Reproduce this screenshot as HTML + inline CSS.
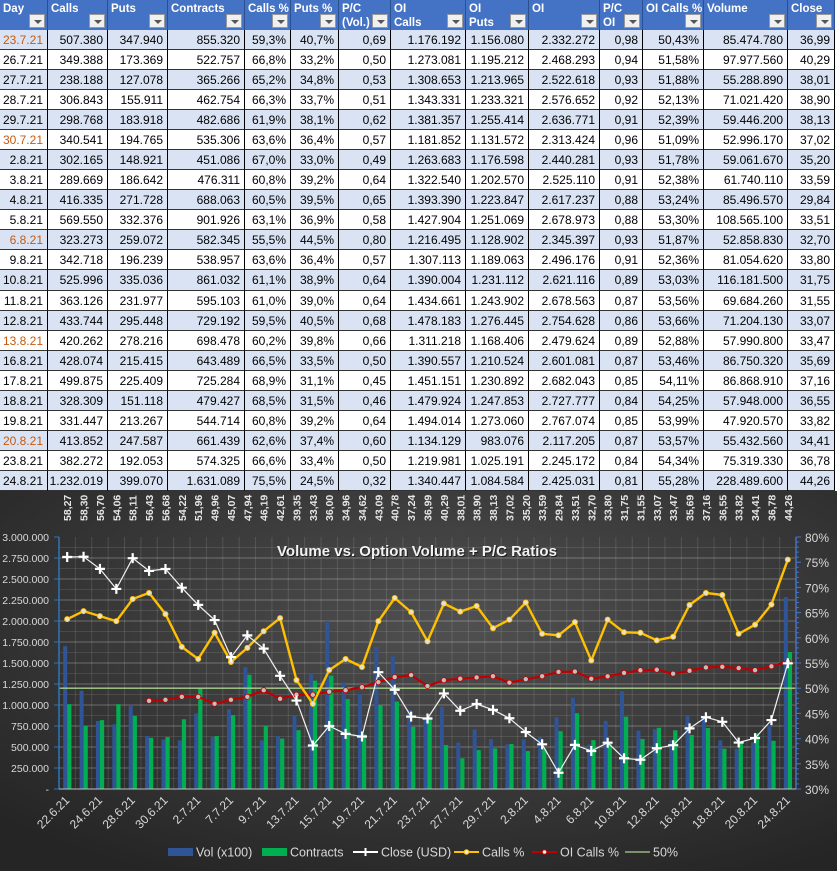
<!DOCTYPE html>
<html><head><meta charset="utf-8"><style>
body{margin:0;width:837px;height:871px;overflow:hidden;background:#fff;font-family:"Liberation Sans",sans-serif}
#tbl{position:absolute;left:0;top:0;width:837px;height:491px;background:#fff}
.cell{position:absolute;box-sizing:border-box;font-size:12px;color:#000;text-align:right;padding-right:4px;line-height:20px;border-right:1px solid #000;border-bottom:1px solid #333;white-space:nowrap}
.hd{position:absolute;top:0;height:30px;background:#4472c4;color:#fff;font-weight:bold;font-size:11.5px;box-sizing:border-box;border-right:1px solid #2c4f8e;padding:2px 0 0 3px;line-height:14px}
.dd{position:absolute;right:2px;bottom:2px;width:16px;height:14px;background:#f0f0f0;border:1px solid #999;box-sizing:border-box}
.dd:after{content:"";position:absolute;left:4px;top:5px;border-left:4px solid transparent;border-right:4px solid transparent;border-top:4px solid #555}
#chart{position:absolute;left:0;top:491px}
</style></head><body>
<div id="tbl"></div>
<svg id="chart" width="837" height="380" viewBox="0 491 837 380">
<defs><radialGradient id="bg" cx="0.55" cy="0.35" r="0.75"><stop offset="0" stop-color="#505050"/><stop offset="1" stop-color="#252525"/></radialGradient></defs>
<rect x="0" y="491" width="837" height="380" fill="url(#bg)"/>
<g id="grid"></g><g id="bars"></g><g id="lines"></g><g id="axes"></g>
<text x="418" y="557" text-anchor="middle" font-size="15" font-weight="bold" fill="#000" opacity="0.6" font-family="Liberation Sans, sans-serif">Volume vs. Option Volume + P/C Ratios</text>
<text x="417" y="556" text-anchor="middle" font-size="15" font-weight="bold" fill="#f2f2f2" font-family="Liberation Sans, sans-serif">Volume vs. Option Volume + P/C Ratios</text>
<g id="legend"></g>
</svg>
<script>
// ---------- table data ----------
const headers=[["Day"],["Calls"],["Puts"],["Contracts"],["Calls %"],["Puts %"],["P/C","(Vol.)"],["OI","Calls"],["OI","Puts"],["OI"],["P/C","OI"],["OI Calls %"],["Volume"],["Close"]];
const colX=[0,48,108,168,245,291,339,391,466,529,600,643,704,788,835];
const rows=[
["23.7.21","507.380","347.940","855.320","59,3%","40,7%","0,69","1.176.192","1.156.080","2.332.272","0,98","50,43%","85.474.780","36,99"],
["26.7.21","349.388","173.369","522.757","66,8%","33,2%","0,50","1.273.081","1.195.212","2.468.293","0,94","51,58%","97.977.560","40,29"],
["27.7.21","238.188","127.078","365.266","65,2%","34,8%","0,53","1.308.653","1.213.965","2.522.618","0,93","51,88%","55.288.890","38,01"],
["28.7.21","306.843","155.911","462.754","66,3%","33,7%","0,51","1.343.331","1.233.321","2.576.652","0,92","52,13%","71.021.420","38,90"],
["29.7.21","298.768","183.918","482.686","61,9%","38,1%","0,62","1.381.357","1.255.414","2.636.771","0,91","52,39%","59.446.200","38,13"],
["30.7.21","340.541","194.765","535.306","63,6%","36,4%","0,57","1.181.852","1.131.572","2.313.424","0,96","51,09%","52.996.170","37,02"],
["2.8.21","302.165","148.921","451.086","67,0%","33,0%","0,49","1.263.683","1.176.598","2.440.281","0,93","51,78%","59.061.670","35,20"],
["3.8.21","289.669","186.642","476.311","60,8%","39,2%","0,64","1.322.540","1.202.570","2.525.110","0,91","52,38%","61.740.110","33,59"],
["4.8.21","416.335","271.728","688.063","60,5%","39,5%","0,65","1.393.390","1.223.847","2.617.237","0,88","53,24%","85.496.570","29,84"],
["5.8.21","569.550","332.376","901.926","63,1%","36,9%","0,58","1.427.904","1.251.069","2.678.973","0,88","53,30%","108.565.100","33,51"],
["6.8.21","323.273","259.072","582.345","55,5%","44,5%","0,80","1.216.495","1.128.902","2.345.397","0,93","51,87%","52.858.830","32,70"],
["9.8.21","342.718","196.239","538.957","63,6%","36,4%","0,57","1.307.113","1.189.063","2.496.176","0,91","52,36%","81.054.620","33,80"],
["10.8.21","525.996","335.036","861.032","61,1%","38,9%","0,64","1.390.004","1.231.112","2.621.116","0,89","53,03%","116.181.500","31,75"],
["11.8.21","363.126","231.977","595.103","61,0%","39,0%","0,64","1.434.661","1.243.902","2.678.563","0,87","53,56%","69.684.260","31,55"],
["12.8.21","433.744","295.448","729.192","59,5%","40,5%","0,68","1.478.183","1.276.445","2.754.628","0,86","53,66%","71.204.130","33,07"],
["13.8.21","420.262","278.216","698.478","60,2%","39,8%","0,66","1.311.218","1.168.406","2.479.624","0,89","52,88%","57.990.800","33,47"],
["16.8.21","428.074","215.415","643.489","66,5%","33,5%","0,50","1.390.557","1.210.524","2.601.081","0,87","53,46%","86.750.320","35,69"],
["17.8.21","499.875","225.409","725.284","68,9%","31,1%","0,45","1.451.151","1.230.892","2.682.043","0,85","54,11%","86.868.910","37,16"],
["18.8.21","328.309","151.118","479.427","68,5%","31,5%","0,46","1.479.924","1.247.853","2.727.777","0,84","54,25%","57.948.000","36,55"],
["19.8.21","331.447","213.267","544.714","60,8%","39,2%","0,64","1.494.014","1.273.060","2.767.074","0,85","53,99%","47.920.570","33,82"],
["20.8.21","413.852","247.587","661.439","62,6%","37,4%","0,60","1.134.129","983.076","2.117.205","0,87","53,57%","55.432.560","34,41"],
["23.8.21","382.272","192.053","574.325","66,6%","33,4%","0,50","1.219.981","1.025.191","2.245.172","0,84","54,34%","75.319.330","36,78"],
["24.8.21","1.232.019","399.070","1.631.089","75,5%","24,5%","0,32","1.340.447","1.084.584","2.425.031","0,81","55,28%","228.489.600","44,26"]];
const fridays=["23.7.21","30.7.21","6.8.21","13.8.21","20.8.21"];
const tbl=document.getElementById('tbl');
headers.forEach((h,i)=>{
  const d=document.createElement('div');d.className='hd';
  
  
  d.style.left=colX[i]+'px';d.style.width=(colX[i+1]-colX[i])+'px';
  d.innerHTML=h.join('<br>');
  const b=document.createElement('div');b.className='dd';
  
  
  d.appendChild(b);tbl.appendChild(d);
});
rows.forEach((r,ri)=>{
  r.forEach((v,ci)=>{
    const c=document.createElement('div');c.className='cell';
    
    
    c.style.left=colX[ci]+'px';c.style.width=(colX[ci+1]-colX[ci])+'px';
    c.style.top=(30+ri*20.04)+'px';c.style.height='20.04px';
    c.style.background=ri%2==0?'#dae3f3':'#ffffff';
    if(ci==0&&fridays.includes(v))c.style.color='#c55a11';
    c.textContent=v;tbl.appendChild(c);
  });
});

// ---------- chart data ----------
const dates=["22.6.21","23.6.21","24.6.21","25.6.21","28.6.21","29.6.21","30.6.21","1.7.21","2.7.21","6.7.21","7.7.21","8.7.21","9.7.21","12.7.21","13.7.21","14.7.21","15.7.21","16.7.21","19.7.21","20.7.21","21.7.21","22.7.21","23.7.21","26.7.21","27.7.21","28.7.21","29.7.21","30.7.21","2.8.21","3.8.21","4.8.21","5.8.21","6.8.21","9.8.21","10.8.21","11.8.21","12.8.21","13.8.21","16.8.21","17.8.21","18.8.21","19.8.21","20.8.21","23.8.21","24.8.21"];
const volX100=[1700000,1170000,810000,770000,1000000,630000,590000,580000,900000,620000,950000,1450000,580000,630000,870000,1380000,2000000,1270000,1130000,1690000,1580000,940000,854748,979776,552889,710214,594462,529962,590617,617401,854966,1085651,528588,810546,1161815,696843,712041,579908,867503,868689,579480,479206,554326,753193,2284896];
const contracts=[1010000,750000,820000,1010000,870000,610000,620000,830000,1200000,630000,880000,1360000,750000,600000,700000,1290000,1350000,1070000,650000,1000000,1040000,740000,855320,522757,365266,462754,482686,535306,451086,476311,688063,901926,582345,538957,861032,595103,729192,698478,643489,725284,479427,544714,661439,574325,1631089];
const closeUsd=[58.27,58.30,56.70,54.06,58.11,56.43,56.68,54.22,51.96,49.96,45.07,47.94,46.19,42.61,39.35,33.43,36.00,34.96,34.62,43.09,40.78,37.24,36.99,40.29,38.01,38.90,38.13,37.02,35.20,33.59,29.84,33.51,32.70,33.80,31.75,31.55,33.07,33.47,35.69,37.16,36.55,33.82,34.41,36.78,44.26];
const callsPct=[63.7,65.3,64.3,63.3,67.7,68.9,64.7,58.2,55.8,61.0,55.2,58.0,61.3,63.9,51.6,46.9,53.6,55.8,54.2,63.3,67.9,65.1,59.3,66.8,65.2,66.3,61.9,63.6,67.0,60.8,60.5,63.1,55.5,63.6,61.1,61.0,59.5,60.2,66.5,68.9,68.5,60.8,62.6,66.6,75.5];
const oiCallsPct=[null,null,null,null,null,47.5,47.7,48.3,48.3,46.9,47.7,48.3,49.6,47.9,48.7,48.7,49.3,49.6,50.2,51.2,52.2,52.6,50.43,51.58,51.88,52.13,52.39,51.09,51.78,52.38,53.24,53.30,51.87,52.36,53.03,53.56,53.66,52.88,53.46,54.11,54.25,53.99,53.57,54.34,55.28];
const leftTicks=[0,250000,500000,750000,1000000,1250000,1500000,1750000,2000000,2250000,2500000,2750000,3000000];
const rightTicks=[30,35,40,45,50,55,60,65,70,75,80];

// ---------- axes ----------
const X0=59,X1=796,Y0=789,Y1=537,N=dates.length,BW=(X1-X0)/N;
const xc=i=>X0+BW*(i+0.5);
const yL=v=>Y0-v/3000000*(Y0-Y1);
const yR=p=>Y0-(p-30)/50*(Y0-Y1);
const CMIN=27.7,CMAX=60.9;
const yC=v=>Y0-(v-CMIN)/(CMAX-CMIN)*(Y0-Y1);
const NS='http://www.w3.org/2000/svg';
function el(tag,attrs,parent){const e=document.createElementNS(NS,tag);for(const k in attrs)e.setAttribute(k,attrs[k]);parent.appendChild(e);return e;}
const G=document.getElementById('grid'),B=document.getElementById('bars'),L=document.getElementById('lines'),A=document.getElementById('axes'),LG=document.getElementById('legend');
const fmt=v=>v==0?'-':v.toString().replace(/\B(?=(\d{3})+(?!\d))/g,'.');

for(let k=0;k<24;k++){const y=Y0-k*(Y0-Y1)/24;const g=el('line',{x1:X0,x2:X1,y1:y,y2:y,stroke:k%2?'rgba(255,255,255,0.1)':'rgba(255,255,255,0.28)','stroke-width':1},G);

}
for(let i=0;i<=N;i++){const x=X0+i*BW;const g=el('line',{x1:x,x2:x,y1:Y1,y2:Y0,stroke:'rgba(255,255,255,0.12)','stroke-width':1},G);

}

leftTicks.forEach(v=>{const t=el('text',{x:49,y:yL(v)+4,'text-anchor':'end','font-size':10.5,fill:'#d9d9d9'},A);t.textContent=fmt(v);


el('line',{x1:54,x2:59,y1:yL(v),y2:yL(v),stroke:'#2e75b6'},A);});
rightTicks.forEach(p=>{const t=el('text',{x:805,y:yR(p)+5,'font-size':12,fill:'#d9d9d9'},A);t.textContent=p+'%';


el('line',{x1:796,x2:801,y1:yR(p),y2:yR(p),stroke:'#4472c4'},A);});
for(let k=0;k<50;k++){el('line',{x1:796,x2:799,y1:yR(30+k),y2:yR(30+k),stroke:'#4472c4'},A);}
el('line',{x1:X0,x2:X0,y1:Y1,y2:Y0,stroke:'#2e75b6','stroke-width':1.5},A);
el('line',{x1:X1,x2:X1,y1:Y1,y2:Y0,stroke:'#4472c4','stroke-width':1.5},A);
el('line',{x1:X0,x2:X1,y1:Y0,y2:Y0,stroke:'#bfbfbf','stroke-width':1},A);

// bars
dates.forEach((d,i)=>{
  const c=xc(i);
  const b=el('rect',{x:c-4,y:yL(volX100[i]),width:4,height:Y0-yL(volX100[i]),fill:'#2f5597'},B);
  
  
  const g=el('rect',{x:c,y:yL(contracts[i]),width:4.2,height:Y0-yL(contracts[i]),fill:'#00b050'},B);
  
  
  // x labels every other day
  if(i%2==0){const t=el('text',{x:c+3,y:Y0+12,'text-anchor':'end','font-size':12,fill:'#d9d9d9',transform:`rotate(-45 ${c+3} ${Y0+12})`},A);t.textContent=d;
  
  }
  // top close labels
  const tx=c+4;const tt=el('text',{x:tx,y:521,'font-size':10.5,'font-weight':'bold',fill:'#e6e6e6',transform:`rotate(-90 ${tx} 521)`},A);
  tt.textContent=closeUsd[i].toFixed(2).replace('.',',');
  
  
});

// 50% line
const fifty=el('line',{x1:X0,x2:X1,y1:yR(50),y2:yR(50),stroke:'#a9d18e','stroke-width':1.3},L);



function series(vals,yf,color,w,name){
  let d='';vals.forEach((v,i)=>{if(v==null)return;d+=(d?'L':'M')+xc(i).toFixed(1)+','+yf(v).toFixed(1);});
  const p=el('path',{d:d,fill:'none',stroke:color,'stroke-width':w,'stroke-linejoin':'round'},L);
  
  
}
series(oiCallsPct,yR,'#c00000',2.2,'oi-calls-pct');
series(callsPct,yR,'#ffc000',2.4,'calls-pct');
series(closeUsd,yC,'#f2f2f2',1.2,'close-usd');
oiCallsPct.forEach((v,i)=>{if(v==null)return;const m=el('circle',{cx:xc(i),cy:yR(v),r:2.6,fill:'#bfbfbf',stroke:'#c00000','stroke-width':0.8},L);

});
callsPct.forEach((v,i)=>{const m=el('circle',{cx:xc(i),cy:yR(v),r:2.6,fill:'#e8e0c8',stroke:'#ffc000','stroke-width':0.8},L);

});
closeUsd.forEach((v,i)=>{const x=xc(i),y=yC(v);
const m=el('path',{d:`M${x-5},${y}H${x+5}M${x},${y-5}V${y+5}`,stroke:'#ffffff','stroke-width':2.2},L);

});

// legend
const legendItems=[["Vol (x100)","rect","#2f5597",168],["Contracts","rect","#00b050",262],["Close (USD)","cross","#ffffff",353],["Calls %","dot","#ffc000",454],["OI Calls %","dot","#c00000",532],["50%","line","#a9d18e",625]];
legendItems.forEach(it=>{
  const g=el('g',{},LG);
  
  
  const x=it[3],y=852;
  if(it[1]=='rect')el('rect',{x:x,y:y-4,width:25,height:8,fill:it[2]},g);
  else{el('line',{x1:x,x2:x+25,y1:y,y2:y,stroke:it[2],'stroke-width':it[1]=='line'?1.3:2},g);
    if(it[1]=='cross')el('path',{d:`M${x+8},${y}H${x+17}M${x+12.5},${y-4}V${y+4}`,stroke:'#fff','stroke-width':2},g);
    if(it[1]=='dot')el('circle',{cx:x+12.5,cy:y,r:2.3,fill:'#eee',stroke:it[2]},g);}
  const t=el('text',{x:x+28,y:y+4.5,'font-size':12.5,fill:'#d9d9d9'},g);t.textContent=it[0];
});
</script>
</body></html>
